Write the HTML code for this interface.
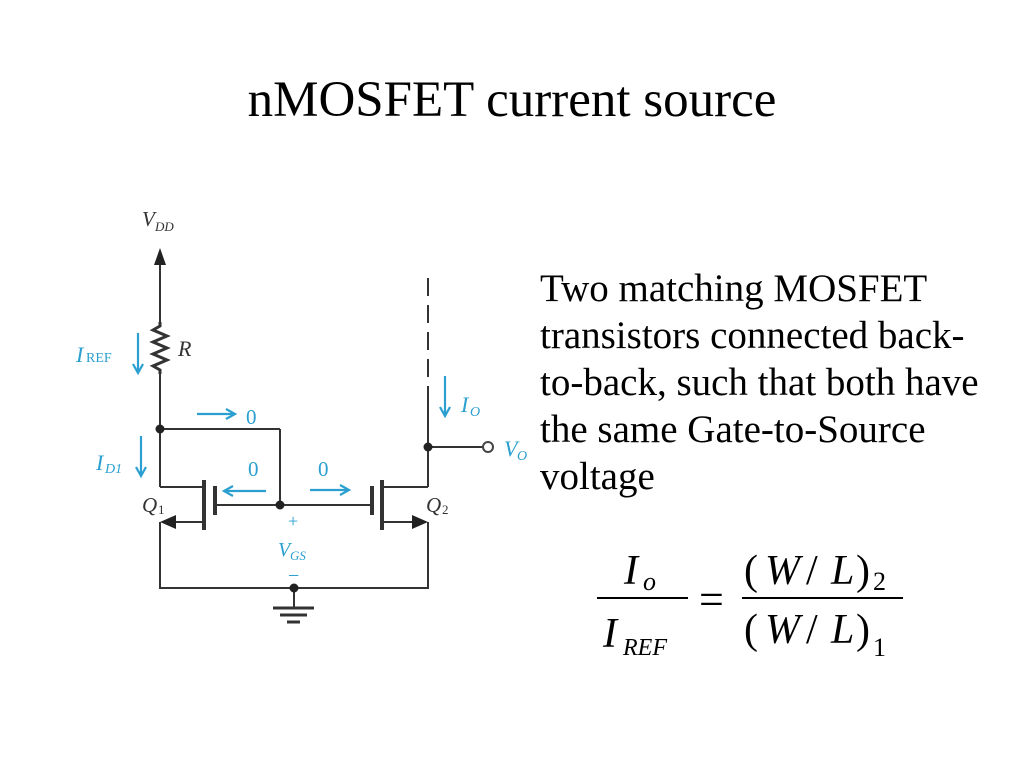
<!DOCTYPE html>
<html><head><meta charset="utf-8"><style>
html,body{margin:0;padding:0;background:#fff;}
svg{display:block;}
</style></head><body>
<svg width="1024" height="768" viewBox="0 0 1024 768" xmlns="http://www.w3.org/2000/svg" font-family="Liberation Serif, serif">
<rect width="1024" height="768" fill="#fff"/>
<text x="512" y="116" font-size="51" text-anchor="middle" fill="#000">nMOSFET current source</text>

<g stroke="#333" stroke-width="2" fill="none">
  <line x1="160" y1="262" x2="160" y2="322"/>
  <polyline points="160,322 160,326 153,330 167,336 153,342 167,348 153,354 167,360 153,366 160,370 160,374" stroke-width="3"/>
  <line x1="160" y1="374" x2="160" y2="487"/>
  <line x1="160" y1="487" x2="204" y2="487"/>
  <line x1="160" y1="429" x2="280" y2="429"/>
  <line x1="280" y1="429" x2="280" y2="505"/>
  <line x1="215" y1="505" x2="372" y2="505"/>
  <line x1="382" y1="487" x2="428" y2="487"/>
  <line x1="428" y1="487" x2="428" y2="402"/>
  <line x1="428" y1="278" x2="428" y2="402" stroke-dasharray="18,9"/>
  <line x1="428" y1="447" x2="483" y2="447"/>
  <line x1="204" y1="522" x2="170" y2="522"/>
  <line x1="382" y1="522" x2="418" y2="522"/>
  <polyline points="160,522 160,588 428,588 428,522"/>
  <line x1="294" y1="588" x2="294" y2="608"/>
</g>
<g stroke="#333" stroke-width="4">
  <line x1="204" y1="480" x2="204" y2="530"/>
  <line x1="215" y1="486" x2="215" y2="515"/>
  <line x1="382" y1="480" x2="382" y2="530"/>
  <line x1="372" y1="486" x2="372" y2="515"/>
  <line x1="273" y1="608" x2="314" y2="608" stroke-width="3"/>
  <line x1="280" y1="615" x2="307" y2="615" stroke-width="3"/>
  <line x1="287" y1="622" x2="300" y2="622" stroke-width="3"/>
</g>
<g fill="#222">
  <polygon points="160,248 154,265 166,265"/>
  <polygon points="160,522 176,515 176,529"/>
  <polygon points="428,522 412,515 412,529"/>
  <circle cx="160" cy="429" r="4.5"/>
  <circle cx="280" cy="505" r="4.5"/>
  <circle cx="428" cy="447" r="4.5"/>
  <circle cx="294" cy="588" r="4.5"/>
</g>
<circle cx="488" cy="447" r="5" fill="#fff" stroke="#444" stroke-width="2"/>

<g stroke="#2a9fd0" stroke-width="2.2" fill="none">
  <line x1="138" y1="333" x2="138" y2="372"/><polyline points="133,364 138,373 143,364"/>
  <line x1="141" y1="436" x2="141" y2="475"/><polyline points="136,467 141,476 146,467"/>
  <line x1="197" y1="414" x2="234" y2="414"/><polyline points="226,409 235,414 226,419"/>
  <line x1="266" y1="491" x2="225" y2="491"/><polyline points="233,486 224,491 233,496"/>
  <line x1="310" y1="490" x2="348" y2="490"/><polyline points="340,485 349,490 340,495"/>
  <line x1="445" y1="376" x2="445" y2="415"/><polyline points="440,407 445,416 450,407"/>
</g>
<g fill="#2a9fd0" font-size="21">
  <text x="76" y="362" font-style="italic" font-size="22">I</text><text x="86" y="362" font-size="14">REF</text>
  <text x="96" y="470" font-style="italic" font-size="22">I</text><text x="105" y="473" font-style="italic" font-size="14">D1</text>
  <text x="246" y="424">0</text>
  <text x="248" y="476">0</text>
  <text x="318" y="476">0</text>
  <text x="461" y="412" font-style="italic" font-size="22">I</text><text x="470" y="416" font-style="italic" font-size="14">O</text>
  <text x="504" y="456" font-style="italic" font-size="22">V</text><text x="517" y="460" font-style="italic" font-size="14">O</text>
  <text x="288" y="527" font-size="18">+</text>
  <text x="278" y="556" font-style="italic" font-size="20">V</text><text x="290" y="560" font-style="italic" font-size="13">GS</text>
  <text x="288" y="582" font-size="20">−</text>
</g>
<g fill="#333" font-style="italic">
  <text x="142" y="226" font-size="21">V</text><text x="155" y="231" font-size="13">DD</text>
  <text x="178" y="356" font-size="22">R</text>
  <text x="142" y="512" font-size="21">Q</text><text x="158" y="514" font-size="13" font-style="normal">1</text>
  <text x="426" y="512" font-size="21">Q</text><text x="442" y="514" font-size="13" font-style="normal">2</text>
</g>

<g font-size="39" fill="#000">
  <text x="540" y="301">Two matching MOSFET</text>
  <text x="540" y="348">transistors connected back-</text>
  <text x="540" y="395">to-back, such that both have</text>
  <text x="540" y="442">the same Gate-to-Source</text>
  <text x="540" y="489">voltage</text>
</g>

<g fill="#000" font-size="42" font-style="italic">
  <text x="624" y="584">I</text><text x="643" y="590" font-size="26">o</text>
  <line x1="597" y1="598" x2="688" y2="598" stroke="#000" stroke-width="2"/>
  <text x="603" y="647">I</text><text x="623" y="655" font-size="24">REF</text>
  <text x="699" y="614" font-style="normal" font-size="44">=</text>
  <line x1="742" y1="598" x2="903" y2="598" stroke="#000" stroke-width="2"/>
  <text x="744" y="584" font-style="normal">(</text><text x="765" y="584">W</text><text x="806" y="584" font-style="normal">/</text><text x="831" y="584">L</text><text x="856" y="584" font-style="normal">)</text><text x="873" y="590" font-style="normal" font-size="26">2</text>
  <text x="744" y="643" font-style="normal">(</text><text x="765" y="643">W</text><text x="806" y="643" font-style="normal">/</text><text x="831" y="643">L</text><text x="856" y="643" font-style="normal">)</text><text x="873" y="656" font-style="normal" font-size="26">1</text>
</g>
</svg>
</body></html>
